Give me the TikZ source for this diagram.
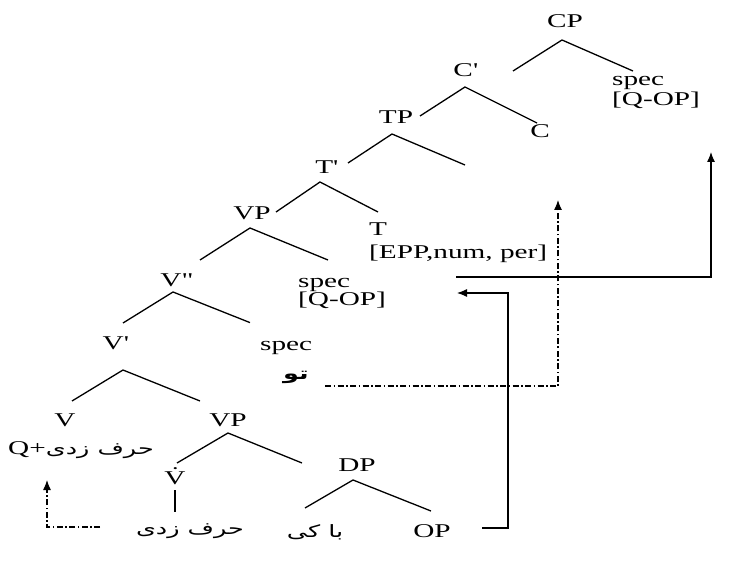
\documentclass[tikz,border=0pt]{standalone}
\usepackage{fontspec}
\setmainfont{Liberation Serif}[FakeStretch=1.5]
\newfontfamily\arabicfont[Script=Arabic,FakeStretch=1.5]{DejaVu Sans}
\TeXXeTstate=1
\usetikzlibrary{arrows.meta}
\newcommand{\fatext}[1]{{\arabicfont\fontsize{17}{19}\selectfont\beginR #1\endR}}
\tikzset{
  cat/.style={
    inner sep=2pt,
    text height=13pt,
    text depth=0pt,
    font=\fontsize{19.5}{20}\selectfont
  },
  feat/.style={
    anchor=north west,
    inner sep=0pt,
    align=left,
    font=\fontsize{19.5}{20}\selectfont
  },
  txt/.style={inner sep=1pt, font=\fontsize{19.5}{20}\selectfont},
  branch/.style={line width=1.3pt},
  move/.style={-{Latex[length=10pt,width=8pt]}, line width=1.2pt},
  trace/.style={move, dash pattern=on 6pt off 2.5pt on 1.5pt off 2.5pt}
}

\begin{document}
\begin{tikzpicture}[x=1pt, y=-1pt]
        \useasboundingbox (0,0) rectangle (731,561);
        \node[cat] (cp) at (565,21) {CP};
        \node[feat] (cpspec) at (612,76) {spec\\{[Q-OP]}};
        \node[cat] (cbar) at (465,70) {C\textquotesingle};
        \node[cat] (c) at (540,131) {C};
        \node[cat] (tp) at (396,117) {TP};
        \node[cat] (tbar) at (326,167) {T\textquotesingle};
        \node[feat] (tfeat) at (369,223) {T\\[3pt]{[EPP,num, per]}};
        \node[cat] (vpa) at (252,213) {VP};
        \node[feat] (vpspec) at (298,278) {spec\\[-2pt]{[Q-OP]}};
        \node[cat] (vbb) at (175,280) {V\textquotedbl};
        \node[cat] (vb) at (115,343) {V\textquotesingle};
        \node[feat, anchor=base west] (vbspec) at (260,350) {spec};
        \node[txt] (tu) at (296,377) {\fatext{\bfseries تو}};
        \node[cat] (v) at (65,420) {V};
        \node[txt] (qv) at (81,450) {Q+\fatext{حرف زدی}};
        \node[cat] (vpb) at (228,420) {VP};
        \node[cat] (vdot) at (175,478) {\.{V}};
        \node[txt] (hv) at (190,531) {\fatext{حرف زدی}};
        \node[cat] (dp) at (357,465) {DP};
        \node[txt] (bk) at (315,532) {\fatext{با کی}};
        \node[cat] (op) at (432,531) {OP};
        \coordinate (tpspec) at (465,165);
        \coordinate (midland) at (457,293);
        \coordinate (tpstart) at (456,277);
        \coordinate (cpland) at (711,152);
        \coordinate (tland) at (558,200);
        \coordinate (vland) at (47,480);
        \draw[branch] ([shift={(48,1)}]cbar.center) -- ([shift={(-3,19)}]cp.center) -- ([shift={(21,-5)}]cpspec.north west);
        \draw[branch] ([shift={(24,-1)}]tp.center) -- ([shift={(0,17)}]cbar.center) -- ([shift={(-3,-8)}]c.center);
        \draw[branch] ([shift={(22,-4)}]tbar.center) -- ([shift={(-4,17)}]tp.center) -- (tpspec);
        \draw[branch] ([shift={(24,-1)}]vpa.center) -- ([shift={(-6,15)}]tbar.center) -- ([shift={(9,-11)}]tfeat.north west);
        \draw[branch] ([shift={(25,-20)}]vbb.center) -- ([shift={(-2,15)}]vpa.center) -- ([shift={(30,-18)}]vpspec.north west);
        \draw[branch] ([shift={(8,-20)}]vb.center) -- ([shift={(-2,12)}]vbb.center) -- ([shift={(-10,-18)}]vbspec.north west);
        \draw[branch] ([shift={(7,-19)}]v.center) -- ([shift={(8,27)}]vb.center) -- ([shift={(-28,-19)}]vpb.center);
        \draw[branch] ([shift={(2,-15)}]vdot.center) -- ([shift={(0,13)}]vpb.center) -- ([shift={(-55,-2)}]dp.center);
        \draw[branch] ([shift={(-10,-24)}]bk.center) -- ([shift={(-4,15)}]dp.center) -- ([shift={(-1,-20)}]op.center);
        \draw[branch, line width=2.2pt] ([shift={(0,12)}]vdot.center) -- ([shift={(-15,-19)}]hv.center);
        \draw[move] ([shift={(50,-3)}]op.center) -- ++(26,0) |- (midland);
        \draw[move] (tpstart) -| (cpland);
        \draw[trace] ([shift={(29,9)}]tu.center) -| (tland);
        \draw[trace] ([shift={(-90,-4)}]hv.center) -| (vland);
      \end{tikzpicture}
\end{document}
